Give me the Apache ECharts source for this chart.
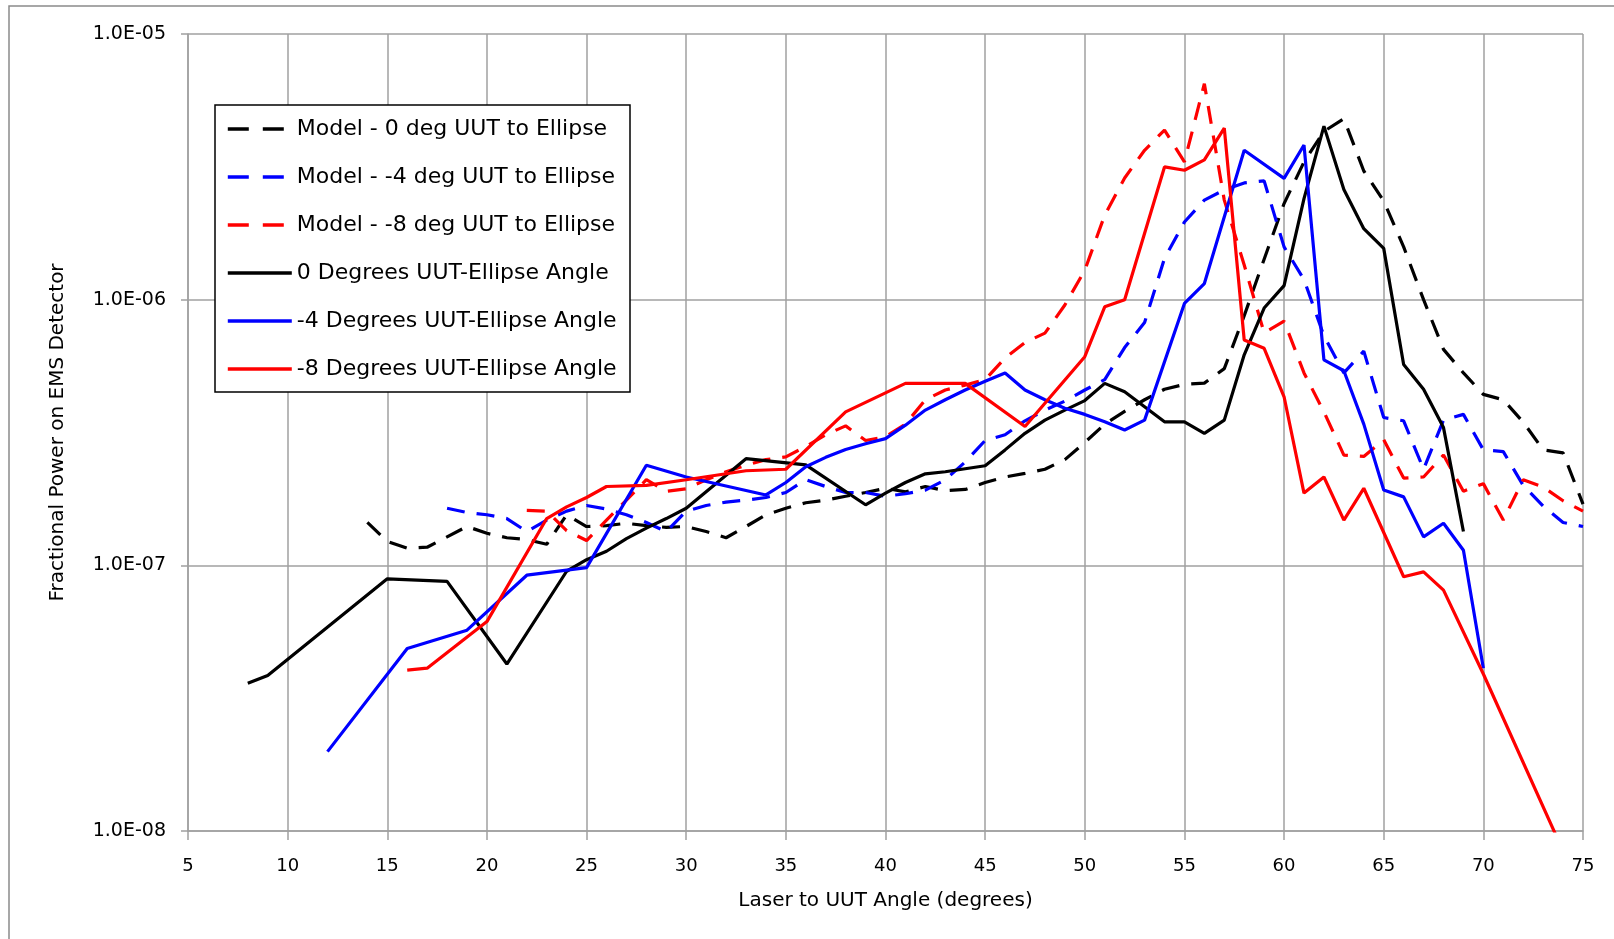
<!DOCTYPE html>
<html><head><meta charset="utf-8">
<script src="https://cdn.jsdelivr.net/npm/echarts@6/dist/echarts.min.js"></script>
<style>html,body{margin:0;padding:0;background:#fff}#c{width:1614px;height:939px}</style>
</head><body><div id="c"></div>
<script>
const seriesNames = [
  'Model - 0 deg UUT to Ellipse',
  'Model - -4 deg UUT to Ellipse',
  'Model - -8 deg UUT to Ellipse',
  '0 Degrees UUT-Ellipse Angle',
  '-4 Degrees UUT-Ellipse Angle',
  '-8 Degrees UUT-Ellipse Angle'
];
const xTitle = 'Laser to UUT Angle (degrees)';
const yTitle = 'Fractional Power on EMS Detector';
const xMin = 5, xMax = 75, xStep = 5;
const yMin = 1e-8, yMax = 1e-5;

const model0Angle = [14,15,16,17,18,19,20,21,22,23,24,25,26,27,28,29,30,31,32,33,34,35,36,37,38,39,40,41,42,43,44,45,46,47,48,49,50,51,52,53,54,55,56,57,58,59,60,61,62,63,64,65,66,67,68,69,70,71,72,73,74,75];
const model0Power = [1.45e-7,1.23e-7,1.16e-7,1.17e-7,1.28e-7,1.40e-7,1.32e-7,1.27e-7,1.25e-7,1.20e-7,1.55e-7,1.40e-7,1.41e-7,1.44e-7,1.41e-7,1.39e-7,1.40e-7,1.34e-7,1.27e-7,1.40e-7,1.55e-7,1.64e-7,1.72e-7,1.76e-7,1.82e-7,1.88e-7,1.95e-7,1.89e-7,1.98e-7,1.91e-7,1.93e-7,2.05e-7,2.15e-7,2.22e-7,2.30e-7,2.50e-7,2.90e-7,3.40e-7,3.80e-7,4.20e-7,4.60e-7,4.80e-7,4.85e-7,5.50e-7,8.70e-7,1.42e-6,2.30e-6,3.30e-6,4.30e-6,4.80e-6,3.05e-6,2.35e-6,1.58e-6,1.00e-6,6.50e-7,5.30e-7,4.40e-7,4.20e-7,3.46e-7,2.72e-7,2.65e-7,1.70e-7];

const model4Angle = [18,19,20,21,22,23,24,25,26,27,28,29,30,31,32,33,34,35,36,37,38,39,40,41,42,43,44,45,46,47,48,49,50,51,52,53,54,55,56,57,58,59,60,61,62,63,64,65,66,67,68,69,70,71,72,73,74,75];
const model4Power = [1.64e-7,1.58e-7,1.55e-7,1.50e-7,1.34e-7,1.48e-7,1.60e-7,1.68e-7,1.63e-7,1.55e-7,1.45e-7,1.34e-7,1.60e-7,1.68e-7,1.73e-7,1.76e-7,1.80e-7,1.88e-7,2.10e-7,1.98e-7,1.88e-7,1.88e-7,1.82e-7,1.86e-7,1.92e-7,2.10e-7,2.45e-7,2.95e-7,3.10e-7,3.50e-7,3.84e-7,4.15e-7,4.57e-7,5.00e-7,6.60e-7,8.20e-7,1.43e-6,1.96e-6,2.37e-6,2.59e-6,2.75e-6,2.80e-6,1.58e-6,1.19e-6,7.30e-7,5.30e-7,6.40e-7,3.60e-7,3.50e-7,2.30e-7,3.52e-7,3.70e-7,2.72e-7,2.68e-7,2.00e-7,1.67e-7,1.45e-7,1.40e-7];

const model8Angle = [22,23,24,25,26,27,28,29,30,31,32,33,34,35,36,37,38,39,40,41,42,43,44,45,46,47,48,49,50,51,52,53,54,55,56,57,58,59,60,61,62,63,64,65,66,67,68,69,70,71,72,73,74,75];
const model8Power = [1.61e-7,1.60e-7,1.35e-7,1.24e-7,1.48e-7,1.76e-7,2.10e-7,1.90e-7,1.94e-7,2.10e-7,2.25e-7,2.38e-7,2.50e-7,2.56e-7,2.80e-7,3.10e-7,3.35e-7,2.95e-7,3.05e-7,3.40e-7,4.20e-7,4.57e-7,4.77e-7,5.00e-7,6.03e-7,6.90e-7,7.48e-7,9.55e-7,1.29e-6,2.08e-6,2.87e-6,3.65e-6,4.35e-6,3.30e-6,6.50e-6,2.37e-6,1.35e-6,7.50e-7,8.30e-7,5.30e-7,3.78e-7,2.60e-7,2.57e-7,2.97e-7,2.13e-7,2.15e-7,2.60e-7,1.90e-7,2.03e-7,1.48e-7,2.10e-7,1.97e-7,1.75e-7,1.60e-7];

const meas0Angle = [8,9,15,18,21,24,25,26,27,28,29,30,33,36,39,40,41,42,43,44,45,46,47,48,49,50,51,52,54,55,56,57,58,59,60,61,62,63,64,65,66,67,68,69];
const meas0Power = [3.6e-8,3.85e-8,8.9e-8,8.7e-8,4.25e-8,9.5e-8,1.05e-7,1.13e-7,1.26e-7,1.38e-7,1.50e-7,1.64e-7,2.52e-7,2.39e-7,1.69e-7,1.87e-7,2.05e-7,2.21e-7,2.25e-7,2.31e-7,2.37e-7,2.72e-7,3.14e-7,3.52e-7,3.84e-7,4.17e-7,4.84e-7,4.50e-7,3.47e-7,3.47e-7,3.14e-7,3.52e-7,6.2e-7,9.3e-7,1.13e-6,2.4e-6,4.5e-6,2.6e-6,1.85e-6,1.56e-6,5.7e-7,4.6e-7,3.3e-7,1.34e-7];

const meas4Angle = [12,16,19,22,25,28,30,34,35,36,37,38,39,40,41,42,43,44,45,46,47,48,49,50,51,52,53,55,56,58,60,61,62,63,64,65,66,67,68,69,70];
const meas4Power = [1.99e-8,4.86e-8,5.7e-8,9.18e-8,9.8e-8,2.38e-7,2.15e-7,1.84e-7,2.05e-7,2.35e-7,2.55e-7,2.73e-7,2.87e-7,3.0e-7,3.37e-7,3.84e-7,4.2e-7,4.57e-7,4.93e-7,5.3e-7,4.57e-7,4.2e-7,3.9e-7,3.7e-7,3.47e-7,3.23e-7,3.52e-7,9.68e-7,1.15e-6,3.65e-6,2.86e-6,3.82e-6,5.93e-7,5.4e-7,3.4e-7,1.92e-7,1.81e-7,1.28e-7,1.44e-7,1.14e-7,4.1e-8];

const meas8Angle = [16,17,20,23,24,25,26,28,30,33,35,38,41,44,47,50,51,52,54,55,56,57,58,59,60,61,62,63,64,66,67,68,70,74];
const meas8Power = [4.03e-8,4.1e-8,6.14e-8,1.5e-7,1.66e-7,1.8e-7,1.98e-7,2.0e-7,2.1e-7,2.27e-7,2.3e-7,3.78e-7,4.84e-7,4.84e-7,3.33e-7,6.1e-7,9.4e-7,1.0e-6,3.16e-6,3.07e-6,3.36e-6,4.42e-6,7.05e-7,6.56e-7,4.31e-7,1.87e-7,2.15e-7,1.48e-7,1.95e-7,9.06e-8,9.45e-8,8.07e-8,3.9e-8,8.4e-9];

function pairs(a, b) { return a.map((x, i) => [x, b[i]]); }
const FONT = 'DejaVu Sans';
const GRID = '#a0a0a0';
const DASH = [18, 12];
const LEGEND_DASH = [21, 14];

function mk(name, ax, pw, color, dashed) {
  return {
    name: name, type: 'line', data: pairs(ax, pw),
    symbol: 'none', showSymbol: false, clip: true,
    lineStyle: { color: color, width: 3.2, type: dashed ? DASH : 'solid', cap: 'butt' },
    itemStyle: { color: color },
    emphasis: { disabled: true }
  };
}

function sciLabel(v) {
  const e = Math.round(Math.log10(v));
  return '1.0E' + (e < 0 ? '-' : '+') + String(Math.abs(e)).padStart(2, '0');
}

const legendData = seriesNames.map((n, i) => (
  i < 3 ? { name: n, lineStyle: { type: LEGEND_DASH, width: 3.6 } } : { name: n }
));

const chart = echarts.init(document.getElementById('c'), null, { renderer: 'canvas' });
chart.setOption({
  animation: false,
  backgroundColor: '#ffffff',
  grid: { left: 188, right: 31, top: 34, bottom: 108, containLabel: false },
  xAxis: {
    type: 'value', min: xMin, max: xMax, interval: xStep,
    name: xTitle, nameLocation: 'middle', nameGap: 60,
    nameTextStyle: { fontFamily: FONT, fontSize: 20, color: '#000' },
    axisLine: { show: true, lineStyle: { color: GRID, width: 1.5 } },
    axisTick: { show: true, inside: false, length: 9, lineStyle: { color: GRID, width: 1.5 } },
    axisLabel: { fontFamily: FONT, fontSize: 18, color: '#000', margin: 26 },
    splitLine: { show: true, lineStyle: { color: GRID, width: 1.5 } }
  },
  yAxis: {
    type: 'log', logBase: 10, min: yMin, max: yMax,
    name: yTitle, nameLocation: 'middle', nameGap: 120, nameRotate: 90,
    nameTextStyle: { fontFamily: FONT, fontSize: 20, color: '#000' },
    axisLine: { show: true, lineStyle: { color: GRID, width: 1.5 } },
    axisTick: { show: true, inside: false, length: 7, lineStyle: { color: GRID, width: 1.5 } },
    minorTick: { show: false },
    axisLabel: { fontFamily: FONT, fontSize: 19, color: '#000', margin: 22, formatter: sciLabel },
    splitLine: { show: true, lineStyle: { color: GRID, width: 1.5 } }
  },
  legend: {
    show: true, orient: 'vertical', left: 226, top: 117, padding: 0,
    itemWidth: 64, itemHeight: 14, itemGap: 24, z: 20,
    data: legendData,
    itemStyle: { opacity: 0, borderWidth: 0 },
    lineStyle: { width: 3.6 },
    textStyle: { fontFamily: FONT, fontSize: 22, color: '#000', lineHeight: 24 },
    selectedMode: false
  },
  graphic: [
    { type: 'rect', silent: true, z: 19, shape: { x: 215, y: 105, width: 415, height: 287 },
      style: { fill: '#ffffff', stroke: '#000000', lineWidth: 1.5 } },
    { type: 'rect', silent: true, z: -1, shape: { x: 9, y: 6, width: 1700, height: 1000 },
      style: { fill: 'none', stroke: '#8a8a8a', lineWidth: 1.5 } }
  ],
  series: [
    mk(seriesNames[0], model0Angle, model0Power, '#000000', true),
    mk(seriesNames[1], model4Angle, model4Power, '#0000ff', true),
    mk(seriesNames[2], model8Angle, model8Power, '#ff0000', true),
    mk(seriesNames[3], meas0Angle, meas0Power, '#000000', false),
    mk(seriesNames[4], meas4Angle, meas4Power, '#0000ff', false),
    mk(seriesNames[5], meas8Angle, meas8Power, '#ff0000', false)
  ]
});
</script></body></html>
